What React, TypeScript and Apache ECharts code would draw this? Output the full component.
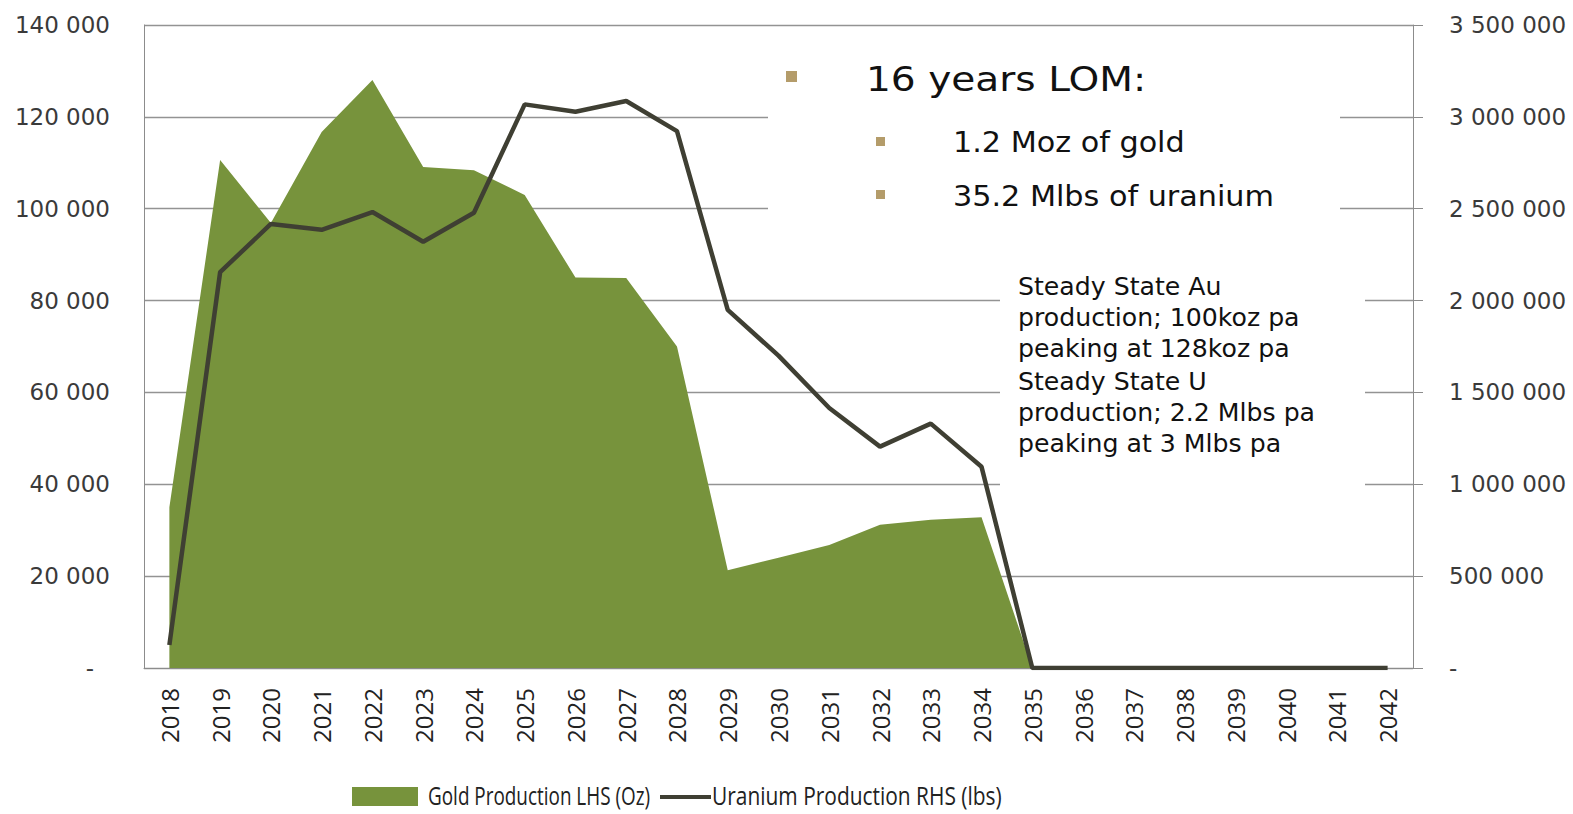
import React, { useEffect, useRef } from "react";
import * as echarts from "echarts";

const years = [
  "2018", "2019", "2020", "2021", "2022", "2023", "2024", "2025", "2026", "2027",
  "2028", "2029", "2030", "2031", "2032", "2033", "2034", "2035", "2036", "2037",
  "2038", "2039", "2040", "2041", "2042",
];

const goldOz = [
  35000, 110600, 96900, 116700, 128000, 109100, 108400, 103000, 85000, 84900,
  70000, 21300, 24000, 26800, 31200, 32300, 32800, 0, 0, 0,
  0, 0, 0, 0, 0,
];

const uraniumLbs = [
  125000, 2155000, 2417000, 2385000, 2482000, 2320000, 2478000, 3068000, 3028000, 3086000,
  2922000, 1949000, 1700000, 1415000, 1205000, 1330000, 1095000, 0, 0, 0,
  0, 0, 0, 0, 0,
];

const leftTicks = { min: 0, max: 140000, interval: 20000 };
const rightTicks = { min: 0, max: 3500000, interval: 500000 };

const seriesNames = ["Gold Production LHS (Oz)", "Uranium Production RHS (lbs)"];
const bulletMain = "16 years LOM:";
const bulletSubs = ["1.2 Moz of gold", "35.2 Mlbs of uranium"];
const noteAu = ["Steady State Au", "production; 100koz pa", "peaking at 128koz pa"];
const noteU = ["Steady State U", "production; 2.2 Mlbs pa", "peaking at 3 Mlbs pa"];

function fmtSpace(v: number): string {
  return String(Math.round(v)).replace(/\B(?=(\d{3})+(?!\d))/g, " ");
}

const GREEN = "#77933C";
const ULINE = "#3F3F33";
const TAN = "#B49C6A";
const AXIS_GRAY = "#8C8C8C";

export default function App() {
  const ref = useRef<HTMLDivElement>(null);

  useEffect(() => {
    if (!ref.current) return;
    const chart = echarts.init(ref.current, undefined, { renderer: "svg" });

    const axisFont = "DejaVu Sans";
    const noteFont = "DejaVu Sans";
    const legendFont = "Open Sans";

    const textEl = (
      text: string,
      x: number,
      y: number,
      size: number,
      family: string,
      sx = 1,
      fill = "#111"
    ) => ({
      type: "text",
      x,
      y,
      scaleX: sx,
      z: 10,
      style: { text, fontSize: size, fontFamily: family, fill, verticalAlign: "middle", align: "left" },
    });

    const graphics: any[] = [
      // white boxes behind annotations (hide gridlines there)
      { type: "rect", shape: { x: 768, y: 45, width: 572, height: 190 }, style: { fill: "#fff" }, z: 1 },
      { type: "rect", shape: { x: 1000, y: 262, width: 365, height: 228 }, style: { fill: "#fff" }, z: 1 },
      // bullets
      { type: "rect", shape: { x: 786, y: 71, width: 11, height: 11 }, style: { fill: TAN }, z: 10 },
      { type: "rect", shape: { x: 876, y: 137, width: 9, height: 9 }, style: { fill: TAN }, z: 10 },
      { type: "rect", shape: { x: 876, y: 190, width: 9, height: 9 }, style: { fill: TAN }, z: 10 },
      textEl(bulletMain, 866, 79, 34, noteFont, 1.15),
      textEl(bulletSubs[0], 953, 142, 28, noteFont, 1.08),
      textEl(bulletSubs[1], 953, 196, 28, noteFont, 1.08),
    ];
    noteAu.forEach((t, i) => graphics.push(textEl(t, 1018, 287 + i * 31, 24, noteFont, 1.05)));
    noteU.forEach((t, i) => graphics.push(textEl(t, 1018, 382 + i * 31, 24, noteFont, 1.05)));
    // legend
    graphics.push(
      { type: "rect", shape: { x: 352, y: 787, width: 66, height: 19 }, style: { fill: GREEN }, z: 10 },
      textEl(seriesNames[0], 428, 795, 25, legendFont, 0.756, "#222"),
      { type: "line", shape: { x1: 660, y1: 797, x2: 711, y2: 797 }, style: { stroke: ULINE, lineWidth: 4 }, z: 10 },
      textEl(seriesNames[1], 712, 795, 25, legendFont, 0.837, "#222")
    );

    chart.setOption({
      animation: false,
      backgroundColor: "#fff",
      grid: { left: 144, right: 160, top: 25, bottom: 146, containLabel: false },
      xAxis: {
        type: "category",
        data: years,
        boundaryGap: true,
        axisLine: { show: true, lineStyle: { color: AXIS_GRAY, width: 1 } },
        axisTick: { show: false },
        axisLabel: {
          rotate: 90,
          margin: 20,
          interval: 0,
          fontFamily: "Open Sans",
          fontSize: 24,
          color: "#222",
        },
        splitLine: { show: false },
      },
      yAxis: [
        {
          type: "value",
          min: leftTicks.min,
          max: leftTicks.max,
          interval: leftTicks.interval,
          position: "left",
          axisLine: { show: true, lineStyle: { color: AXIS_GRAY, width: 1 } },
          axisTick: { show: false },
          splitLine: { show: true, lineStyle: { color: "#939393", width: 1.3 } },
          axisLabel: {
            margin: 34,
            fontFamily: axisFont,
            fontSize: 23,
            color: "#3a3a3a",
            formatter: (v: number) => (v === 0 ? "{z|-}" : fmtSpace(v)),
            rich: { z: { padding: [0, 16, 0, 0], fontFamily: axisFont, fontSize: 23, color: "#3a3a3a" } },
          },
        },
        {
          type: "value",
          min: rightTicks.min,
          max: rightTicks.max,
          interval: rightTicks.interval,
          position: "right",
          axisLine: { show: true, lineStyle: { color: AXIS_GRAY, width: 1 } },
          axisTick: { show: true, length: 10, lineStyle: { color: AXIS_GRAY } },
          splitLine: { show: false },
          axisLabel: {
            margin: 36,
            fontFamily: axisFont,
            fontSize: 23,
            color: "#3a3a3a",
            formatter: (v: number) => (v === 0 ? "-" : fmtSpace(v)),
          },
        },
      ],
      series: [
        {
          name: seriesNames[0],
          type: "line",
          yAxisIndex: 0,
          data: goldOz,
          symbol: "none",
          lineStyle: { width: 0, color: GREEN },
          itemStyle: { color: GREEN },
          areaStyle: { color: GREEN, opacity: 1 },
          z: 2,
        },
        {
          name: seriesNames[1],
          type: "line",
          yAxisIndex: 1,
          data: uraniumLbs,
          symbol: "none",
          lineStyle: { width: 4.5, color: ULINE },
          itemStyle: { color: ULINE },
          z: 3,
        },
      ],
      graphic: graphics,
    });

    return () => chart.dispose();
  }, []);

  return (
    <div
      ref={ref}
      style={{ position: "fixed", left: 0, top: 0, width: 1573, height: 814, background: "#fff" }}
    />
  );
}
